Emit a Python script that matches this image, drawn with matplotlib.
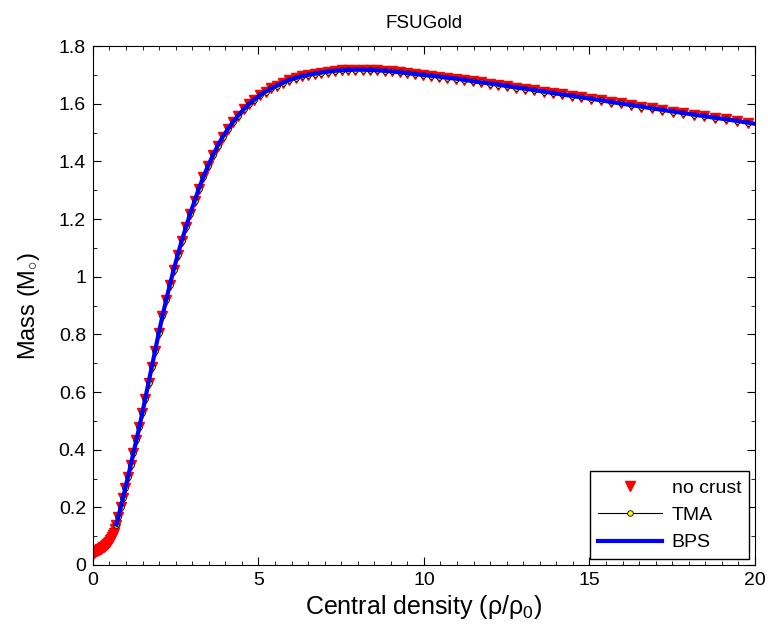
import matplotlib
matplotlib.use("Agg")
import matplotlib.pyplot as plt
from matplotlib.ticker import MultipleLocator, FuncFormatter

# 字体: Helvetica 风格
plt.rcParams['font.family'] = ['Liberation Sans', 'DejaVu Sans']
plt.rcParams['mathtext.fontset'] = 'custom'
plt.rcParams['mathtext.rm'] = 'Liberation Sans'
plt.rcParams['mathtext.it'] = 'Liberation Sans:italic'

# 低密度部分 (只有 no crust)
rho_low = [0.02, 0.05, 0.08, 0.11, 0.14, 0.17, 0.20, 0.23, 0.26, 0.29, 0.32, 0.35,
           0.38, 0.41, 0.44, 0.47, 0.50, 0.53, 0.56, 0.59, 0.62, 0.65, 0.68]
m_low = [0.042, 0.045, 0.047, 0.049, 0.051, 0.053, 0.055, 0.057, 0.059, 0.061, 0.063, 0.066,
         0.068, 0.071, 0.074, 0.077, 0.081, 0.085, 0.090, 0.096, 0.103, 0.112, 0.125]

# 主曲线 (中心密度 rho/rho0, 质量 M_sun)
rho_core = [0.71, 0.77, 0.84, 0.91, 0.98, 1.06, 1.14, 1.22, 1.31, 1.40,
            1.49, 1.58, 1.68, 1.78, 1.88, 1.99, 2.10, 2.21, 2.32, 2.44,
            2.56, 2.68, 2.81, 2.94, 3.07, 3.20, 3.34, 3.48, 3.63, 3.77,
            3.92, 4.07, 4.23, 4.39, 4.55, 4.71, 4.88, 5.05, 5.22, 5.39,
            5.57, 5.75, 5.93, 6.12, 6.31, 6.50, 6.70, 6.90, 7.10, 7.30,
            7.51, 7.72, 7.93, 8.15, 8.36, 8.59, 8.81, 9.04, 9.27, 9.50,
            9.73, 9.97, 10.21, 10.46, 10.71, 10.96, 11.21, 11.47, 11.72, 11.99,
            12.25, 12.52, 12.79, 13.06, 13.34, 13.62, 13.90, 14.18, 14.47, 14.76,
            15.05, 15.35, 15.65, 15.95, 16.26, 16.57, 16.88, 17.19, 17.51, 17.83,
            18.15, 18.47, 18.80, 19.13, 19.47, 19.80, 20.14]
m_core = [0.140, 0.168, 0.200, 0.233, 0.268, 0.306, 0.346, 0.387, 0.432, 0.478,
          0.526, 0.577, 0.632, 0.688, 0.744, 0.805, 0.863, 0.918, 0.970, 1.024,
          1.075, 1.123, 1.172, 1.219, 1.262, 1.305, 1.347, 1.385, 1.422, 1.454,
          1.485, 1.511, 1.536, 1.559, 1.580, 1.598, 1.614, 1.629, 1.642, 1.653,
          1.663, 1.673, 1.682, 1.689, 1.695, 1.700, 1.704, 1.708, 1.711, 1.714,
          1.716, 1.717, 1.718, 1.718, 1.717, 1.716, 1.714, 1.712, 1.709, 1.706,
          1.703, 1.700, 1.697, 1.694, 1.690, 1.687, 1.683, 1.678, 1.674, 1.670,
          1.666, 1.661, 1.656, 1.652, 1.647, 1.642, 1.637, 1.632, 1.627, 1.622,
          1.617, 1.612, 1.606, 1.601, 1.595, 1.590, 1.584, 1.579, 1.573, 1.568,
          1.562, 1.557, 1.551, 1.546, 1.540, 1.534, 1.528]

yticks = [0, 0.2, 0.4, 0.6, 0.8, 1.0, 1.2, 1.4, 1.6, 1.8]
xticks = [0, 5, 10, 15, 20]

fig = plt.figure(figsize=(7.68, 6.31), dpi=100)
ax = fig.add_axes([0.121, 0.1046, 0.862, 0.8224])

ax.plot(rho_low + rho_core, m_low + m_core, linestyle='none', marker='v',
        markersize=7, color='red', markeredgecolor='red', label='no crust')
ax.plot(rho_core, m_core, color='black', linewidth=0.8, marker='o', markersize=4,
        markerfacecolor='yellow', markeredgecolor='black', markeredgewidth=0.6, label='TMA')
ax.plot(rho_core, m_core, color='blue', linewidth=3, label='BPS')

ax.set_xlim(0, 20)
ax.set_ylim(0, 1.8)
ax.set_xticks(xticks)
ax.set_yticks(yticks)
ax.xaxis.set_minor_locator(MultipleLocator(0.5))
ax.yaxis.set_minor_locator(MultipleLocator(0.1))
ax.yaxis.set_major_formatter(FuncFormatter(lambda v, p: '%g' % round(v, 2)))
ax.tick_params(which='both', direction='in', top=True, right=True, labelsize=14)
ax.tick_params(which='major', length=6, pad=5)
ax.tick_params(which='minor', length=3)

ax.set_xlabel('Central density (ρ/ρ$_0$)', fontsize=18, labelpad=3)
ax.set_ylabel(r'Mass (M$_{\circ}$)', fontsize=17, labelpad=12)
ax.set_title('FSUGold', fontsize=13.5, pad=13)

leg = ax.legend(loc='lower right', fontsize=14, handlelength=3.3, fancybox=False,
                framealpha=1, edgecolor='black', borderaxespad=0.3, handletextpad=0.5)
leg.get_frame().set_linewidth(1)

fig.savefig('out.png', dpi=100)
